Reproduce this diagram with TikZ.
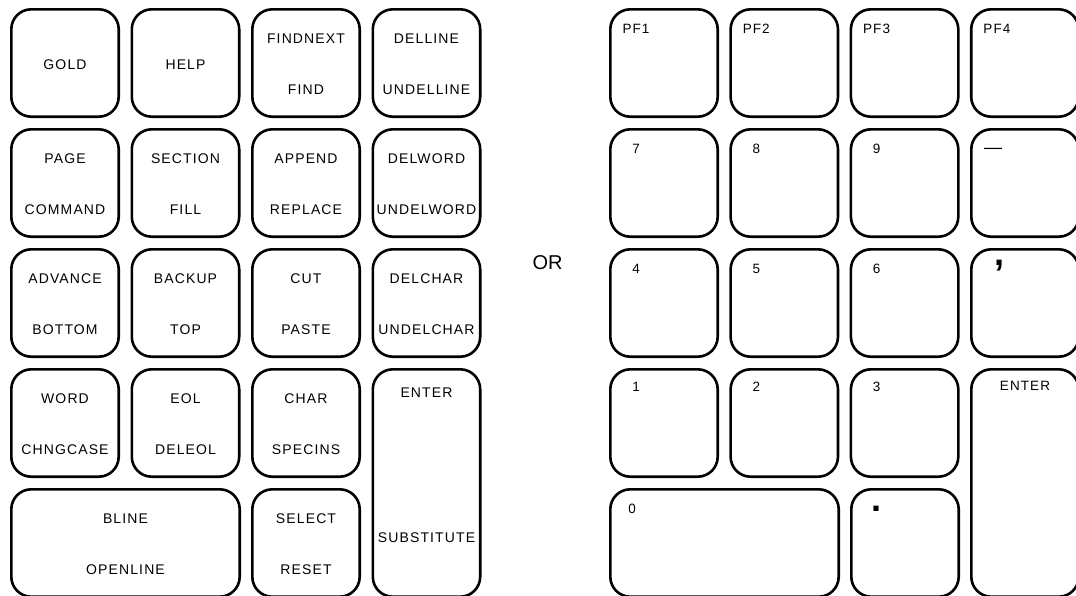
\documentclass[tikz,border=0pt]{standalone}
\usepackage{fontspec}
\setmainfont{Liberation Sans}[LetterSpace=8]
\newfontfamily\plainsans{Liberation Sans}
\usetikzlibrary{positioning,calc}

\begin{document}
\begin{tikzpicture}[x=1pt,y=-1pt,
    key/.style={draw,line width=2.6pt,rounded corners=20pt,anchor=north west,
      minimum width=107.4pt,minimum height=107.4pt,inner sep=0pt},
    lbl/.style={anchor=base,inner sep=0pt,font=\fontsize{14}{16}\selectfont},
    num/.style={anchor=base,inner sep=0pt,font=\fontsize{13.5}{16}\selectfont}]
  \clip (0,0) rectangle (1076,595);
  % editing keypad
  \foreach \n/\c/\r in {gold/0/0,help/1/0,find/2/0,delline/3/0,
                        page/0/1,section/1/1,append/2/1,delword/3/1,
                        advance/0/2,backup/1/2,cut/2/2,delchar/3/2,
                        word/0/3,eol/1/3,char/2/3,select/2/4}
    \node[key] (\n) at (10+120.5*\c,8+120*\r) {};
  \node[key,minimum height=227.4pt] (enter) at (371.5,368) {};
  \node[key,minimum width=228.4pt] (bline) at (10,488) {};
  \node[lbl] at ([yshift=-61pt]gold.north) {GOLD};
  \node[lbl] at ([yshift=-61pt]help.north) {HELP};
  \foreach \n/\a/\b in {find/FINDNEXT/FIND,delline/DELLINE/UNDELLINE,
                        page/PAGE/COMMAND,section/SECTION/FILL,append/APPEND/REPLACE,
                        delword/DELWORD/UNDELWORD,advance/ADVANCE/BOTTOM,backup/BACKUP/TOP,
                        cut/CUT/PASTE,delchar/DELCHAR/UNDELCHAR,word/WORD/CHNGCASE,
                        eol/EOL/DELEOL,char/CHAR/SPECINS,bline/BLINE/OPENLINE,select/SELECT/RESET}
    {\node[lbl] at ([yshift=-35pt]\n.north) {\a};
     \node[lbl] at ([yshift=-86pt]\n.north) {\b};}
  \node[lbl] at ([yshift=-29pt]enter.north) {ENTER};
  \node[lbl] at ([yshift=-174pt]enter.north) {SUBSTITUTE};

  \node[anchor=base,inner sep=0pt,font=\fontsize{20}{22}\selectfont\plainsans] (ortxt) at (547.5,269) {OR};

  % numeric keypad
  \foreach \n/\c/\r/\t in {pfa/0/0/PF1,pfb/1/0/PF2,pfc/2/0/PF3,pfd/3/0/PF4,
                           ksev/0/1/7,keig/1/1/8,knin/2/1/9,
                           kfou/0/2/4,kfiv/1/2/5,ksix/2/2/6}
    {\node[key] (\n) at (609+120.3*\c,8+120*\r) {};
     \node[num] at ([xshift=27pt,yshift=-25pt]\n.north west) {\t};}
  \foreach \n/\c/\t in {kone/0/1,ktwo/1/2,kthr/2/3}
    {\node[key] (\n) at (609+120.3*\c,368) {};
     \node[num] at ([xshift=27pt,yshift=-23pt]\n.north west) {\t};}
  \node[key] (kmin) at (970,128) {};
  \node[key] (kcom) at (970,248) {};
  \node[key,minimum height=227.4pt] (kent) at (970,368) {};
  \node[key,minimum width=228.4pt] (kzer) at (609,488) {};
  \node[key] (kdot) at (850,488) {};
  \node[anchor=base,inner sep=0pt,font=\fontsize{18}{18}\selectfont\plainsans]
    at ([xshift=23pt,yshift=-25pt]kmin.north west) {\textemdash};
  \node[anchor=base,inner sep=0pt,font=\fontsize{36}{36}\selectfont\plainsans\bfseries]
    at ([xshift=29pt,yshift=-17pt]kcom.north west) {,};
  \node[num] at ([yshift=-22pt]kent.north) {ENTER};
  \node[num] at ([xshift=23pt,yshift=-25pt]kzer.north west) {0};
  \node[anchor=base,inner sep=0pt,font=\fontsize{36}{36}\selectfont\plainsans\bfseries]
    at ([xshift=26.5pt,yshift=-23pt]kdot.north west) {.};
\end{tikzpicture}
\end{document}
